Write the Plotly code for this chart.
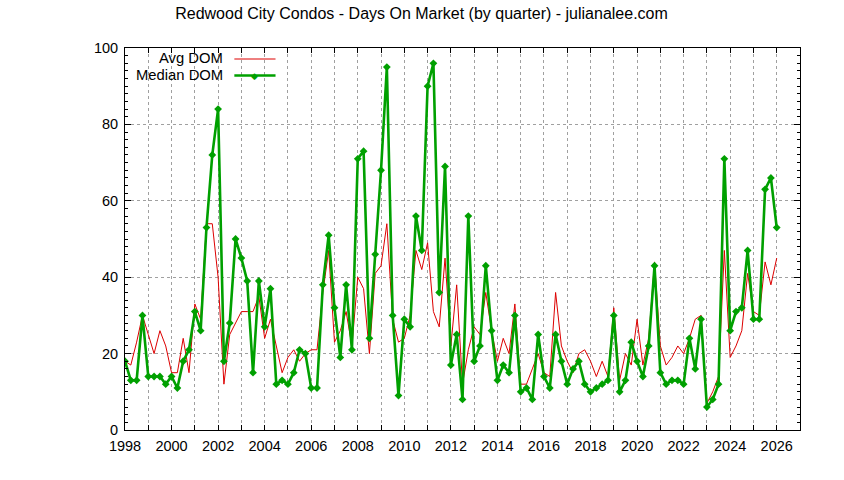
import plotly.graph_objects as go

# quarterly days-on-market, first quarter 1998 .. first quarter 2026
start_year = 1998
median_dom = [18, 13, 13, 30, 14, 14, 14, 12, 14, 11, 18, 21, 31, 26, 53, 72,
              84, 18, 28, 50, 45, 39, 15, 39, 27, 37, 12, 13, 12, 15, 21, 20,
              11, 11, 38, 51, 32, 19, 38, 21, 71, 73, 24, 46, 68, 95, 30, 9,
              29, 27, 56, 47, 90, 96, 36, 69, 17, 25, 8, 56, 18, 22, 43, 26,
              13, 17, 15, 30, 10, 11, 8, 25, 14, 11, 25, 18, 12, 16, 18, 12,
              10, 11, 12, 13, 30, 10, 13, 23, 18, 14, 22, 43, 15, 12, 13, 13,
              12, 24, 16, 29, 6, 8, 12, 71, 26, 31, 32, 47, 29, 29, 63, 66,
              53]
avg_dom = [18, 17, 23, 30, 25, 20, 26, 22, 15, 15, 24, 15, 33, 29, 54, 54,
           40, 12, 25, 28, 31, 31, 31, 35, 24, 29, 22, 15, 19, 21, 18, 20,
           21, 21, 36, 47, 23, 26, 31, 22, 40, 37, 20, 41, 43, 54, 29, 23,
           24, 30, 47, 42, 49, 31, 27, 45, 22, 38, 12, 21, 27, 25, 36, 26,
           18, 24, 20, 33, 12, 12, 16, 20, 15, 14, 36, 22, 18, 15, 20, 21,
           18, 14, 18, 14, 32, 13, 20, 17, 29, 17, 24, 44, 22, 17, 19, 22,
           20, 24, 29, 30, 7, 10, 14, 47, 19, 22, 26, 41, 31, 30, 44, 38,
           45]
x_labels = [str(y) for y in range(1998, 2027, 2)]

quarters = [start_year + q / 4.0 for q in range(len(median_dom))]

FONT = "Liberation Sans, Arial, sans-serif"
GRID = "#a0a0a0"
RED = '#dd0000'
GREEN = '#00a000'

trace_avg = go.Scatter(
    x=quarters,
    y=avg_dom,
    mode='lines',
    name='Avg DOM',
    line=dict(color=RED, width=1),
    showlegend=False
)
trace_med = go.Scatter(
    x=quarters,
    y=median_dom,
    mode='lines+markers',
    name='Median DOM',
    line=dict(color=GREEN, width=2.6),
    marker=dict(symbol='diamond', size=6, color=GREEN),
    showlegend=False
)

fig = go.Figure(data=[trace_avg, trace_med])

fig.update_layout(
    width=844, height=480,
    margin=dict(l=125, r=44, t=48, b=50),
    paper_bgcolor='white',
    plot_bgcolor='white',
    font=dict(family=FONT, size=15, color='black'),
    title=dict(text='Redwood City Condos - Days On Market (by quarter) - julianalee.com',
               x=0.4994, xanchor='center', y=0.9729, yanchor='middle',
               font=dict(size=16)),
)

fig.update_xaxes(
    range=[1998, 2027],
    tickmode='array',
    tickvals=[int(v) for v in x_labels],
    ticktext=x_labels,
    ticks='inside', ticklen=5, tickcolor='black',
    showline=True, linecolor='black', linewidth=1, mirror='allticks',
    showgrid=True, gridcolor=GRID, griddash='dot', gridwidth=1,
    minor=dict(dtick=1, ticks='inside', ticklen=5, tickcolor='black',
               showgrid=True, gridcolor=GRID, griddash='dot'),
    zeroline=False,
    ticklabelstandoff=3,
    tickfont=dict(size=14.5),
)
fig.update_yaxes(
    range=[0, 100],
    dtick=20,
    ticks='inside', ticklen=6, tickcolor='black',
    showline=True, linecolor='black', linewidth=1, mirror='allticks',
    showgrid=True, gridcolor=GRID, griddash='dot', gridwidth=1,
    minor=dict(dtick=2, ticks='inside', ticklen=3, tickcolor='black', showgrid=False),
    zeroline=False,
    ticklabelstandoff=3,
    tickfont=dict(size=14.5),
)

# gnuplot-like key in the top left corner
key_rows = [('Avg DOM', 0.9738), ('Median DOM', 0.9306)]
for label, ky in key_rows:
    fig.add_annotation(text=label, xref='paper', yref='paper', x=0.1467, y=ky,
                       xanchor='right', yanchor='middle', showarrow=False,
                       borderpad=0, font=dict(size=14.8))
fig.add_shape(type='line', xref='paper', yref='paper', x0=0.162, x1=0.223,
              y0=0.9712, y1=0.9712, line=dict(color=RED, width=1))
fig.add_shape(type='line', xref='paper', yref='paper', x0=0.162, x1=0.223,
              y0=0.9280, y1=0.9280, line=dict(color=GREEN, width=2.6))
fig.add_annotation(text='\u25c6', xref='paper', yref='paper', x=0.1925, y=0.9280,
                   xanchor='center', yanchor='middle', showarrow=False,
                   font=dict(size=9, color=GREEN))

# drop the default body margin so the figure sits at the page corner
fig.write_html("out.html", config={'displayModeBar': False},
               post_script="document.body.style.margin='0';")
